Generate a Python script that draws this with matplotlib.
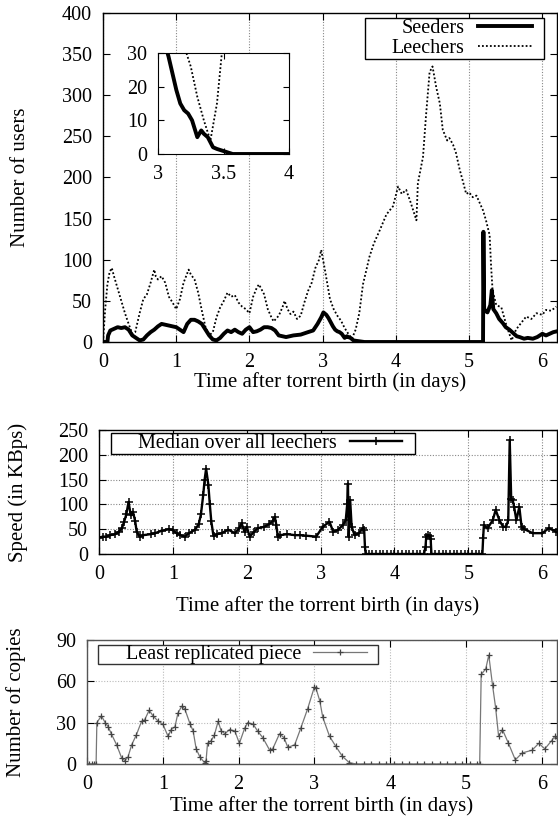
import matplotlib
matplotlib.use("Agg")
import matplotlib.pyplot as plt
from matplotlib.patches import Rectangle

plt.rcParams['font.family'] = ['Liberation Serif', 'DejaVu Serif']
plt.rcParams['font.size'] = 14.5

# --- top panel: number of seeders / leechers
t_leech = [0.0, 0.03, 0.06, 0.09, 0.12, 0.15, 0.2, 0.25, 0.3, 0.35, 0.4, 0.44, 0.5, 0.55,
           0.6, 0.65, 0.7, 0.72, 0.75, 0.8, 0.85, 0.9, 0.95, 1.0, 1.05, 1.1, 1.17, 1.2, 1.25,
           1.3, 1.35, 1.4, 1.45, 1.5, 1.55, 1.6, 1.65, 1.7, 1.75, 1.8, 1.85, 1.9, 1.95, 2.0,
           2.05, 2.1, 2.13, 2.2, 2.25, 2.3, 2.33, 2.4, 2.45, 2.48, 2.52, 2.56, 2.6, 2.65, 2.7,
           2.75, 2.8, 2.85, 2.9, 2.95, 2.98, 3.03, 3.1, 3.15, 3.2, 3.25, 3.3, 3.35, 3.4, 3.45,
           3.5, 3.55, 3.64, 3.7, 3.78, 3.87, 3.96, 4.03, 4.08, 4.14, 4.2, 4.28, 4.3, 4.37, 4.41,
           4.46, 4.5, 4.55, 4.6, 4.64, 4.7, 4.73, 4.78, 4.82, 4.87, 4.91, 4.96, 5.0, 5.05, 5.1,
           5.14, 5.19, 5.23, 5.28, 5.3, 5.32, 5.37, 5.44, 5.51, 5.58, 5.64, 5.7, 5.78, 5.85,
           5.92, 6.0, 6.05, 6.12, 6.19]
leechers = [0, 40, 70, 85, 90, 80, 65, 50, 35, 22, 10, 12, 35, 52,
            58, 72, 88, 80, 76, 80, 72, 55, 48, 40, 52, 72, 88, 82, 76,
            60, 38, 18, 8, 12, 30, 42, 50, 60, 55, 57, 48, 43, 40, 35,
            55, 66, 70, 58, 40, 30, 25, 32, 42, 50, 40, 34, 37, 28, 32,
            48, 62, 72, 90, 100, 112, 88, 52, 40, 32, 26, 17, 10, 4, 15,
            35, 70, 104, 120, 136, 155, 165, 189, 180, 185, 170, 148, 193, 225, 274,
            328, 335, 310, 290, 258, 245, 248, 240, 230, 210, 197, 180, 182, 176, 178,
            170, 160, 148, 130, 92, 63, 45, 42, 20, 2, 15, 22, 31, 28,
            35, 33, 39, 38, 43]

t_seed = [0.0, 0.06, 0.07, 0.1, 0.15, 0.2, 0.25, 0.3, 0.35, 0.4, 0.45, 0.5, 0.55, 0.6, 0.65,
          0.7, 0.75, 0.8, 0.85, 0.9, 0.95, 1.0, 1.05, 1.1, 1.15, 1.2, 1.25, 1.3, 1.35, 1.4,
          1.45, 1.5, 1.55, 1.6, 1.65, 1.7, 1.75, 1.8, 1.85, 1.9, 1.95, 2.0, 2.05, 2.1, 2.15,
          2.2, 2.25, 2.3, 2.35, 2.4, 2.45, 2.5, 2.6, 2.7, 2.8, 2.87, 2.93, 2.98, 3.01, 3.05,
          3.08, 3.11, 3.14, 3.17, 3.2, 3.23, 3.26, 3.3, 3.33, 3.35, 3.38, 3.42, 3.45, 3.49,
          3.53, 3.57, 5.19, 5.195, 5.205, 5.22, 5.25, 5.29, 5.31, 5.33, 5.37, 5.41, 5.46, 5.5,
          5.55, 5.6, 5.65, 5.69, 5.75, 5.8, 5.87, 5.93, 6.0, 6.05, 6.1, 6.15, 6.2]
seeders = [0, 0, 8, 14, 16, 18, 17, 18, 15, 8, 5, 2, 3, 8, 12,
           15, 19, 22, 21, 20, 19, 18, 15, 12, 22, 27, 27, 25, 22, 15,
           8, 3, 2, 5, 10, 14, 12, 15, 12, 10, 15, 18, 12, 13, 15,
           18, 18, 17, 14, 8, 7, 6, 8, 9, 12, 14, 22, 30, 36, 33,
           29, 24, 19, 15, 13, 12, 10, 5, 7, 6, 5, 2, 1.5, 1,
           0.5, 0, 0, 134, 40, 38, 36, 45, 63, 40, 35, 28, 23, 18,
           15, 11, 7, 6, 4, 5, 4, 6, 10, 8, 10, 12, 13]

# --- middle panel: median download speed
t_speed = [0.0, 0.05, 0.1, 0.15, 0.22, 0.27, 0.31, 0.34, 0.37, 0.4, 0.43, 0.46, 0.49, 0.51,
           0.55, 0.6, 0.7, 0.76, 0.85, 0.95, 1.0, 1.05, 1.1, 1.16, 1.22, 1.3, 1.35, 1.38,
           1.41, 1.43, 1.45, 1.48, 1.5, 1.52, 1.55, 1.6, 1.66, 1.75, 1.84, 1.9, 1.93, 1.97,
           2.0, 2.04, 2.1, 2.15, 2.24, 2.3, 2.35, 2.38, 2.4, 2.42, 2.45, 2.55, 2.65, 2.72,
           2.8, 2.94, 3.03, 3.12, 3.17, 3.23, 3.3, 3.34, 3.36, 3.37, 3.38, 3.4, 3.42, 3.46,
           3.52, 3.57, 3.59, 3.6, 3.61, 3.65, 3.7, 3.75, 3.8, 3.85, 3.9, 3.95, 4.0, 4.05,
           4.1, 4.15, 4.2, 4.25, 4.3, 4.35, 4.4, 4.42, 4.43, 4.45, 4.48, 4.49, 4.5, 4.55,
           4.6, 4.65, 4.7, 4.75, 4.8, 4.85, 4.9, 4.95, 5.0, 5.05, 5.1, 5.15, 5.19, 5.2,
           5.21, 5.26, 5.33, 5.37, 5.42, 5.47, 5.51, 5.54, 5.56, 5.58, 5.6, 5.62, 5.65,
           5.69, 5.72, 5.76, 5.87, 6.0, 6.09, 6.19]
speed = [33, 35, 35, 38, 40, 45, 52, 65, 80, 105, 78, 85, 66, 45,
         35, 38, 40, 42, 47, 50, 48, 42, 38, 35, 42, 49, 60, 80,
         118, 150, 172, 140, 100, 66, 36, 40, 42, 49, 42, 52, 62, 45,
         55, 35, 45, 52, 55, 60, 66, 75, 59, 35, 38, 40, 38, 38,
         37, 35, 55, 65, 45, 48, 58, 68, 100, 142, 35, 109, 55, 38,
         42, 52, 48, 15, 0, 0, 0, 0, 0, 0, 0, 0, 0, 0,
         0, 0, 0, 0, 0, 0, 0, 15, 35, 38, 36, 30, 0, 0,
         0, 0, 0, 0, 0, 0, 0, 0, 0, 0, 0, 0, 0, 32,
         58, 52, 68, 89, 68, 55, 55, 68, 230, 110, 109, 95, 68,
         95, 55, 50, 42, 42, 52, 45]

# --- bottom panel: copies of the least replicated piece
t_copies = [0.0, 0.03, 0.06, 0.09, 0.12, 0.13, 0.19, 0.24, 0.28, 0.32, 0.39, 0.46, 0.5, 0.54,
            0.59, 0.65, 0.72, 0.76, 0.82, 0.87, 0.94, 1.0, 1.07, 1.11, 1.16, 1.2, 1.25, 1.29,
            1.36, 1.4, 1.44, 1.49, 1.55, 1.57, 1.59, 1.64, 1.68, 1.73, 1.77, 1.82, 1.88, 1.95,
            2.01, 2.08, 2.12, 2.19, 2.25, 2.32, 2.41, 2.45, 2.54, 2.6, 2.65, 2.74, 2.82, 2.91,
            3.0, 3.02, 3.07, 3.11, 3.2, 3.28, 3.37, 3.46, 3.55, 3.65, 3.75, 3.85, 3.95, 4.05,
            4.15, 4.25, 4.35, 4.45, 4.55, 4.65, 4.75, 4.85, 4.95, 5.05, 5.15, 5.18, 5.2, 5.26,
            5.3, 5.35, 5.39, 5.43, 5.48, 5.56, 5.65, 5.74, 5.87, 5.96, 6.04, 6.13, 6.17, 6.2]
copies = [0, 0, 0, 0, 0, 30, 35, 30, 27, 22, 14, 4, 2.5, 5,
          14, 21, 31, 32, 39, 35, 31, 29, 20, 25, 27, 37, 42, 40,
          29, 24, 11, 5, 1, 2, 15, 17, 21, 31, 24, 22, 25, 24,
          15, 26, 30, 29, 24, 19, 10, 11, 22, 19, 12, 14, 26, 40,
          56, 55, 46, 34, 20, 13, 5.5, 1, 0, 0, 0, 0, 0, 0,
          0, 0, 0, 0, 0, 0, 0, 0, 0, 0, 0, 0, 65, 69,
          79, 57, 41, 20, 25, 15, 3, 8, 10, 15, 11, 17, 20, 19]

W, H = 558, 824
fig = plt.figure(figsize=(W / 100, H / 100), dpi=100)


def box(l, t, r, b):
    return [l / W, 1 - b / H, (r - l) / W, (b - t) / H]


def gnu_axes(ax):
    ax.tick_params(direction='in', top=True, right=True, length=5, width=0.8, pad=8)
    for s in ax.spines.values():
        s.set_linewidth(1.0)


def gnu_legend(ax, x0, y0, x1, y1, xhandle, hlen, pad, ec='black'):
    # gnuplot style key: text then sample, inside a plain box
    ax.add_patch(Rectangle((x0, y0), x1 - x0, y1 - y0, transform=ax.transAxes,
                           facecolor='white', edgecolor=ec, lw=1.0, zorder=4))
    leg = ax.legend(loc='center right', bbox_to_anchor=(xhandle, (y0 + y1) / 2),
                    markerfirst=False, frameon=False, handlelength=hlen,
                    handletextpad=pad, borderpad=0, borderaxespad=0, labelspacing=0.0)
    leg.set_zorder(5)
    return leg


# top panel
ax1 = fig.add_axes(box(103, 13, 557, 342))
ax1.plot(t_seed, seeders, color='black', lw=2.8, label='Seeders')
ax1.plot(t_leech, leechers, color='black', lw=1.3, ls=(0, (1, 1.2)), label='Leechers')
ax1.set_xlim(0, 6.2)
ax1.set_ylim(0, 400)
ax1.set_yticks(range(0, 401, 50))
ax1.set_xticks(range(0, 7))
ax1.grid(axis='x', color='#888888', ls=(0, (1, 1.5)), lw=0.8)
gnu_axes(ax1)
ax1.set_xlabel('Time after torrent birth (in days)', fontsize=15)
ax1.set_ylabel('Number of users', fontsize=15)
ax1.xaxis.set_label_coords(0.5, -0.09)
ax1.yaxis.set_label_coords(-0.161, 0.5)
gnu_legend(ax1, 0.577, 0.860, 0.971, 0.985, 0.945, 2.7, 0.65)

# inset
ax_in = fig.add_axes(box(158, 53, 289, 154))
ax_in.plot(t_seed, seeders, color='black', lw=2.8)
ax_in.plot(t_leech, leechers, color='black', lw=1.3, ls=(0, (1, 1.2)))
ax_in.set_xlim(3, 4)
ax_in.set_ylim(0, 30)
ax_in.set_xticks([3, 3.5, 4])
ax_in.set_xticklabels(['3', '3.5', '4'])
ax_in.set_yticks([0, 10, 20, 30])
ax_in.tick_params(direction='in', top=True, right=True, length=4, width=0.8, pad=8)

# middle panel
ax2 = fig.add_axes(box(99, 430, 557, 554))
ax2.plot(t_speed, speed, color='black', lw=1.7, marker='+', ms=6, mew=1.1,
         label='Median over all leechers')
ax2.set_xlim(0, 6.2)
ax2.set_ylim(0, 250)
ax2.set_yticks(range(0, 251, 50))
ax2.set_xticks(range(0, 7))
ax2.grid(True, color='#888888', ls=(0, (1, 1.5)), lw=0.8)
gnu_axes(ax2)
ax2.set_xlabel('Time after the torrent birth (in days)', fontsize=15)
ax2.set_ylabel('Speed (in KBps)', fontsize=15)
ax2.xaxis.set_label_coords(0.5, -0.34)
ax2.yaxis.set_label_coords(-0.155, 0.5)
gnu_legend(ax2, 0.026, 0.806, 0.690, 0.976, 0.662, 2.6, 0.65)

# bottom panel
ax3 = fig.add_axes(box(87, 640, 557, 764))
ax3.plot(t_copies, copies, color='#777777', lw=0.9, marker='+', ms=5, mew=0.9,
         mec='#444444', label='Least replicated piece')
ax3.set_xlim(0, 6.2)
ax3.set_ylim(0, 90)
ax3.set_yticks([0, 30, 60, 90])
ax3.set_xticks(range(0, 7))
ax3.grid(True, color='#bbbbbb', ls=(0, (1, 1.5)), lw=0.8)
gnu_axes(ax3)
for s in ax3.spines.values():
    s.set_color('#555555')
ax3.set_xlabel('Time after the torrent birth (in days)', fontsize=15)
ax3.set_ylabel('Number of copies', fontsize=15)
ax3.xaxis.set_label_coords(0.5, -0.26)
ax3.yaxis.set_label_coords(-0.13, 0.5)
gnu_legend(ax3, 0.0234, 0.806, 0.619, 0.960, 0.596, 2.7, 0.55, ec='#333333')

fig.savefig('out.png', dpi=100)
